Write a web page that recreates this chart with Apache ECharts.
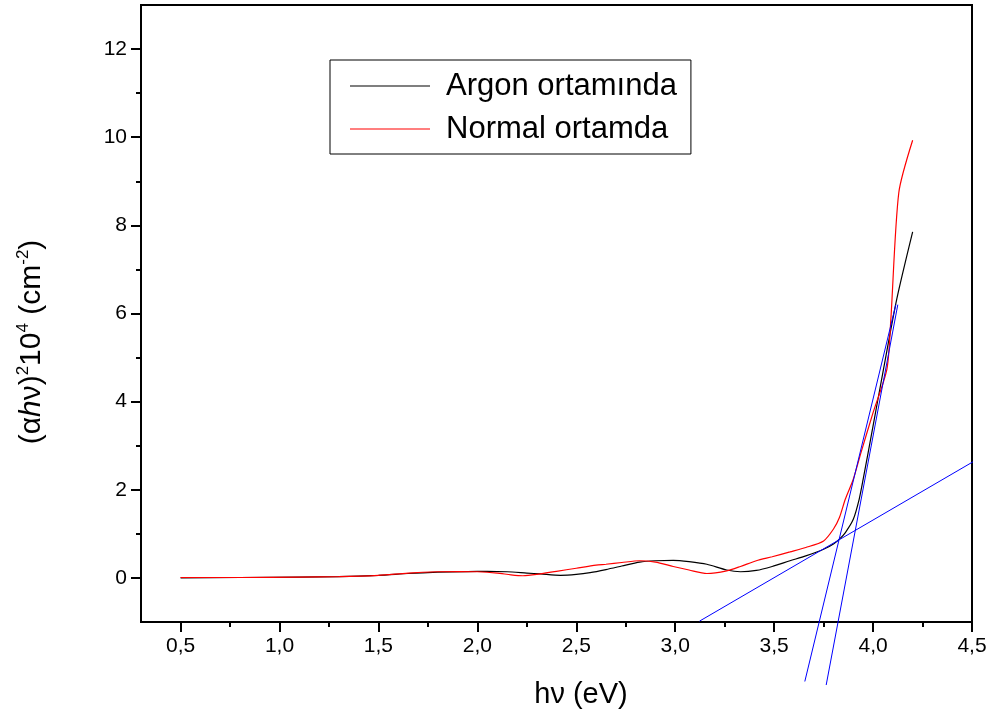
<!DOCTYPE html>
<html>
<head>
<meta charset="utf-8">
<script src="https://cdn.jsdelivr.net/npm/echarts@6/dist/echarts.min.js"></script>
<style>html,body{margin:0;padding:0;background:#fff}#c{width:998px;height:718px}</style>
</head>
<body>
<div id="c"></div>
<script>
// ---- data ----
var argonX = [0.5,0.8,1.1,1.3,1.5,1.65,1.8,1.95,2.05,2.15,2.25,2.32,2.42,2.5,2.57,2.65,2.73,2.82,2.9,2.99,3.07,3.16,3.26,3.33,3.41,3.49,3.58,3.66,3.75,3.8,3.83,3.86,3.9,3.93,3.95,4.0,4.05,4.12,4.2];
var argonY = [0,0.01,0.02,0.03,0.06,0.1,0.13,0.145,0.15,0.14,0.11,0.09,0.06,0.08,0.12,0.19,0.27,0.36,0.39,0.40,0.37,0.31,0.18,0.14,0.17,0.26,0.39,0.50,0.65,0.77,0.88,1.03,1.33,1.79,2.24,3.45,4.67,6.33,7.85];
var normalX = [0.5,0.8,1.1,1.3,1.5,1.65,1.8,1.91,2.0,2.1,2.17,2.23,2.3,2.4,2.5,2.6,2.65,2.73,2.82,2.9,2.99,3.07,3.16,3.26,3.33,3.41,3.49,3.58,3.66,3.75,3.8,3.83,3.86,3.9,3.94,4.0,4.07,4.09,4.13,4.2];
var normalY = [0.01,0.01,0.02,0.03,0.06,0.11,0.14,0.145,0.14,0.11,0.07,0.05,0.08,0.15,0.22,0.29,0.31,0.35,0.39,0.36,0.26,0.18,0.10,0.16,0.26,0.39,0.48,0.59,0.69,0.84,1.11,1.37,1.79,2.24,2.86,3.75,4.74,5.88,8.74,9.93];
var tan1X = [3.123, 4.526], tan1Y = [-0.98, 2.69];
var tan2X = [3.655, 4.115], tan2Y = [-2.35, 6.2];
var tan3X = [3.763, 4.125], tan3Y = [-2.43, 6.2];
var xMajor = [0.5,1.0,1.5,2.0,2.5,3.0,3.5,4.0,4.5];
var xMinor = [0.75,1.25,1.75,2.25,2.75,3.25,3.75,4.25];
var yMajor = [0,2,4,6,8,10,12];
var yMinor = [1,3,5,7,9,11];
var seriesNames = ['Argon ortamında','Normal ortamda'];

function pairs(xs, ys){ return xs.map(function(x,i){return [x, ys[i]];}); }
var FONT = '"Liberation Sans", Arial, sans-serif';

var chart = echarts.init(document.getElementById('c'));
var option = {
  backgroundColor: '#fff',
  animation: false,
  grid: {left:141, right:26, top:5, bottom:96, show:true, borderColor:'#000', borderWidth:2, backgroundColor:'transparent'},
  legend: {
    data: seriesNames,
    orient: 'vertical', left: 330, top: 60,
    padding: [9, 14, 8, 20],
    borderColor: '#000', borderWidth: 1,
    icon: 'rect', itemWidth: 80, itemHeight: 1.2, itemGap: 9, itemTextGap: 16,
    textStyle: {fontFamily: FONT, fontSize: 31, color: '#000', lineHeight: 34, padding: [0, 0, 0, 11]}
  },
  xAxis: [
    {type:'value', min:0.3, max:4.5, position:'bottom',
     axisLine:{show:true, onZero:false, lineStyle:{color:'#000', width:2}},
     splitLine:{show:false},
     axisTick:{show:true, length:10, lineStyle:{color:'#000', width:2}, customValues:xMajor},
     axisLabel:{customValues:xMajor, margin:14, fontFamily:FONT, fontSize:21, color:'#000',
       formatter:function(v){return v.toFixed(1).replace('.', ',');}}},
    {type:'value', min:0.3, max:4.5, position:'bottom',
     axisLine:{show:false, onZero:false}, splitLine:{show:false}, axisLabel:{show:false},
     axisTick:{show:true, length:5, lineStyle:{color:'#000', width:2}, customValues:xMinor}}
  ],
  yAxis: [
    {type:'value', min:-1, max:13, position:'left',
     axisLine:{show:true, onZero:false, lineStyle:{color:'#000', width:2}},
     splitLine:{show:false},
     axisTick:{show:true, length:10, lineStyle:{color:'#000', width:2}, customValues:yMajor},
     axisLabel:{customValues:yMajor, margin:14, fontFamily:FONT, fontSize:21, color:'#000'}},
    {type:'value', min:-1, max:13, position:'left',
     axisLine:{show:false, onZero:false}, splitLine:{show:false}, axisLabel:{show:false},
     axisTick:{show:true, length:5, lineStyle:{color:'#000', width:2}, customValues:yMinor}}
  ],
  series: [
    {name:seriesNames[0], type:'line', data:pairs(argonX, argonY), symbol:'none', smooth:0.25,
     lineStyle:{color:'#000', width:1.2}, itemStyle:{color:'#000'}},
    {name:seriesNames[1], type:'line', data:pairs(normalX, normalY), symbol:'none', smooth:0.25,
     lineStyle:{color:'#ff0000', width:1.2}, itemStyle:{color:'#ff0000'}},
    {name:'t1', type:'line', data:pairs(tan1X, tan1Y), symbol:'none', clip:false, lineStyle:{color:'#0000ff', width:1}},
    {name:'t2', type:'line', data:pairs(tan2X, tan2Y), symbol:'none', clip:false, lineStyle:{color:'#0000ff', width:1}},
    {name:'t3', type:'line', data:pairs(tan3X, tan3Y), symbol:'none', clip:false, lineStyle:{color:'#0000ff', width:1}}
  ],
  graphic: [
    {type:'text', x:581, y:695, style:{text:'hν (eV)', font:'29px ' + FONT, fill:'#000', align:'center', verticalAlign:'middle'}},
    {type:'text', x:32, y:342, rotation:Math.PI/2,
     style:{
       text:'{a|(α}{i|h}{a|ν)}{s|2}{a|10}{s|4}{a| (cm}{s|-2}{a|)}',
       align:'center', verticalAlign:'middle',
       rich:{
         a:{fontFamily:FONT, fontSize:30, color:'#000', lineHeight:34},
         i:{fontFamily:FONT, fontSize:30, fontStyle:'italic', color:'#000', lineHeight:34},
         s:{fontFamily:FONT, fontSize:17, color:'#000', verticalAlign:'top', lineHeight:34}
       }
     }}
  ]
};
chart.setOption(option);
</script>
</body>
</html>
